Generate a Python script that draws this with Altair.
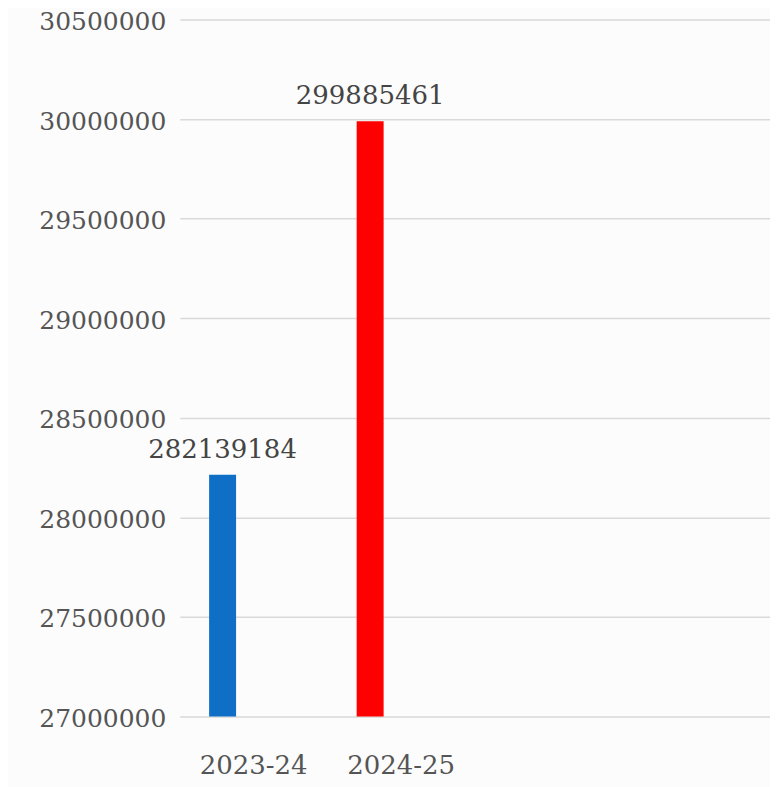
import altair as alt
import pandas as pd

years = ["2023-24", "2024-25"]
values = [28213918, 29988546]
labels = ["282139184", "299885461"]
colors = ["#0f6fc6", "#ff0000"]
x_domain = ["2023-24", "2024-25", "_c", "_d"]
y_ticks = [27000000, 27500000, 28000000, 28500000, 29000000, 29500000, 30000000, 30500000]

df = pd.DataFrame({"year": years, "value": values, "label": labels})

FONT = "DejaVu Serif"
TXT = "#555555"

x = alt.X("year:N", scale=alt.Scale(domain=x_domain, paddingInner=0, paddingOuter=0),
          axis=alt.Axis(title=None, labelAngle=0, domain=False, ticks=False, grid=False,
                        labelFont=FONT, labelFontSize=26, labelColor=TXT, labelPadding=36,
                        labelExpr="indexof(['2023-24','2024-25'], datum.value) >= 0 ? datum.value : ''"))
y = alt.Y("value:Q", scale=alt.Scale(domain=[27000000, 30500000], zero=False, nice=False),
          axis=alt.Axis(title=None, values=y_ticks, format="d", domain=False, ticks=False,
                        grid=True, gridColor="#d9d9d9", gridWidth=1.5,
                        labelFont=FONT, labelFontSize=25, labelColor=TXT, labelPadding=14,
                        labelOffset=2))

bars = alt.Chart(df).mark_bar(width=27, xOffset=-31).encode(
    x=x, y=y, y2=alt.datum(27000000),
    color=alt.Color("year:N", scale=alt.Scale(domain=years, range=colors), legend=None),
)

text = alt.Chart(df).mark_text(font=FONT, fontSize=26, color="#444444", xOffset=-31,
                               dy=-17, baseline="alphabetic").encode(
    x=alt.X("year:N", scale=alt.Scale(domain=x_domain)), y=alt.Y("value:Q"), text="label:N"
)

chart = alt.layer(bars, text).properties(
    width=591, height=698,
    autosize=alt.AutoSizeParams(type="none"),
    padding={"left": 172, "top": 11, "right": 0, "bottom": 70},
    background="#fcfcfc",
).configure_view(stroke=None)

chart.save("out.html", embed_options={"renderer": "svg", "actions": False})
